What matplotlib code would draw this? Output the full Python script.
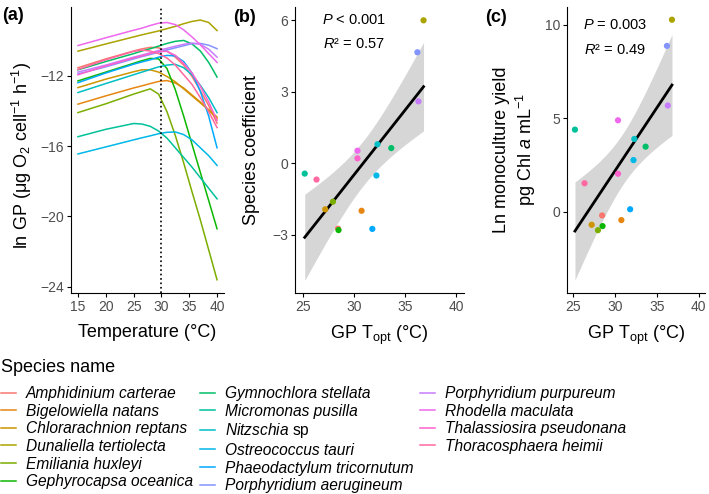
import numpy as np
import matplotlib
matplotlib.use("Agg")
import matplotlib.pyplot as plt
from matplotlib.lines import Line2D

plt.rcParams['font.family'] = ['Liberation Sans', 'DejaVu Sans']
plt.rcParams['mathtext.fontset'] = 'custom'
plt.rcParams['mathtext.rm'] = 'Liberation Sans'
plt.rcParams['mathtext.it'] = 'Liberation Sans:italic'
plt.rcParams['mathtext.bf'] = 'Liberation Sans:bold'

# species (legend order)
species = ["Amphidinium carterae", "Bigelowiella natans", "Chlorarachnion reptans",
           "Dunaliella tertiolecta", "Emiliania huxleyi", "Gephyrocapsa oceanica",
           "Gymnochlora stellata", "Micromonas pusilla", "Nitzschia sp",
           "Ostreococcus tauri", "Phaeodactylum tricornutum", "Porphyridium aerugineum",
           "Porphyridium purpureum", "Rhodella maculata", "Thalassiosira pseudonana",
           "Thoracosphaera heimii"]

# panel a: ln GP at these temperatures
temp_grid = [15, 20, 25, 26.5, 28, 29.5, 31, 32.5, 34, 35.5, 37, 38.5, 40]
ln_gp = [
    [-11.55, -11.05, -10.6, -10.48, -10.39, -10.42, -10.6, -10.95, -11.4, -12.05, -12.85, -13.7, -14.7],
    [-13.62, -13.15, -12.7, -12.58, -12.45, -12.33, -12.28, -12.42, -12.7, -13.1, -13.5, -13.95, -14.45],
    [-12.68, -12.2, -11.78, -11.67, -11.67, -11.8, -12.05, -12.35, -12.75, -13.15, -13.55, -13.95, -14.35],
    [-10.61, -10.2, -9.8, -9.68, -9.57, -9.46, -9.33, -9.2, -9.05, -8.92, -8.84, -8.98, -9.44],
    [-14.1, -13.6, -13.05, -12.9, -12.75, -13.05, -14.05, -15.4, -16.95, -18.6, -20.2, -21.9, -23.6],
    [-12.3, -11.8, -11.3, -11.15, -11.02, -11.05, -11.6, -12.8, -14.3, -15.9, -17.5, -19.1, -20.7],
    [-11.67, -11.2, -10.75, -10.6, -10.47, -10.32, -10.17, -10.05, -10.0, -10.2, -10.6, -11.25, -12.08],
    [-15.47, -15.05, -14.72, -14.75, -14.88, -15.15, -15.55, -16.1, -16.65, -17.2, -17.8, -18.4, -19.0],
    [-12.96, -12.45, -11.95, -11.8, -11.65, -11.5, -11.4, -11.36, -11.55, -11.95, -12.55, -13.25, -14.1],
    [-16.45, -16.05, -15.65, -15.53, -15.42, -15.3, -15.22, -15.2, -15.35, -15.65, -16.1, -16.55, -17.1],
    [-12.4, -11.85, -11.35, -11.22, -11.1, -10.95, -10.85, -10.88, -11.2, -11.85, -12.9, -14.3, -16.1],
    [-11.9, -11.5, -11.05, -10.92, -10.8, -10.67, -10.54, -10.42, -10.3, -10.18, -10.17, -10.27, -10.47],
    [-11.8, -11.4, -10.95, -10.83, -10.7, -10.57, -10.45, -10.33, -10.22, -10.15, -10.22, -10.5, -10.95],
    [-10.29, -9.85, -9.42, -9.3, -9.15, -9.02, -8.98, -9.1, -9.4, -9.8, -10.25, -10.75, -11.25],
    [-11.95, -11.45, -11.0, -10.88, -10.75, -10.63, -10.62, -10.85, -11.3, -11.85, -12.6, -13.5, -14.55],
    [-11.65, -11.1, -10.62, -10.55, -10.6, -10.75, -11.0, -11.4, -11.95, -12.5, -13.25, -14.05, -14.95],
]

# panels b and c: GP Topt per species
gp_topt = [28.45, 30.75, 27.2, 36.8, 27.95, 28.5, 33.65, 25.2,
           32.3, 32.2, 31.8, 36.2, 36.3, 30.35, 30.35, 26.35]
species_coef = [-2.75, -2.0, -1.94, 5.99, -1.62, -2.81, 0.63, -0.44,
                0.79, -0.52, -2.76, 4.65, 2.59, 0.52, 0.2, -0.69]
ln_yield = [-0.2, -0.45, -0.7, 10.27, -0.99, -0.77, 3.48, 4.39,
            3.89, 2.76, 0.13, 8.87, 5.68, 4.89, 2.03, 1.52]

T_CRIT = 2.1448  # t(0.975, df=14)


def hcl_hex(h, c=100.0, l=65.0):
    # ggplot2 hue palette colour (polar LUV -> sRGB)
    xn, yn, zn = 95.047, 100.0, 108.883
    hr = np.radians(h)
    U, V = c * np.cos(hr), c * np.sin(hr)
    Y = yn * ((l + 16) / 116) ** 3
    den = xn + 15 * yn + 3 * zn
    un, vn = 4 * xn / den, 9 * yn / den
    u = U / (13 * l) + un
    v = V / (13 * l) + vn
    X = 9.0 * Y * u / (4 * v)
    Z = -X / 3 - 5 * Y + 3 * Y / v
    X, Y, Z = X / 100, Y / 100, Z / 100
    rgb = [3.240479 * X - 1.537150 * Y - 0.498535 * Z,
           -0.969256 * X + 1.875992 * Y + 0.041556 * Z,
           0.055648 * X - 0.204043 * Y + 1.057311 * Z]
    out = []
    for ch in rgb:
        ch = 12.92 * ch if ch <= 0.0031308 else 1.055 * ch ** (1 / 2.4) - 0.055
        out.append(min(max(ch, 0), 1))
    return tuple(out)


n_sp = len(species)
hues = np.linspace(15, 375, n_sp + 1)[:-1]
colors = [hcl_hex(h) for h in hues]

W, H = 709, 494
fig = plt.figure(figsize=(W / 100, H / 100), dpi=100)


def box(l, r, t=7, b=293):
    return [l / W, 1 - b / H, (r - l) / W, (b - t) / H]


ax_a = fig.add_axes(box(71, 224))
ax_b = fig.add_axes(box(295, 464))
ax_c = fig.add_axes(box(567, 705))

tick_col = '#4D4D4D'
for ax in (ax_a, ax_b, ax_c):
    for s in ('top', 'right'):
        ax.spines[s].set_visible(False)
    for s in ('left', 'bottom'):
        ax.spines[s].set_linewidth(0.8)
    ax.tick_params(direction='out', length=3, width=0.8, labelsize=10,
                   labelcolor=tick_col, pad=2)

# (a)
for i in range(n_sp):
    ax_a.plot(temp_grid, ln_gp[i], color=colors[i], lw=1.1)
ax_a.axvline(30, color='black', ls=':', lw=1.2)
ax_a.set_xlim(13.75, 41.25)
ax_a.set_ylim(-24.35, -8.1)
ax_a.set_xticks([15, 20, 25, 30, 35, 40])
ax_a.set_yticks([-24, -20, -16, -12])
ax_a.set_xlabel('Temperature (°C)', fontsize=13, labelpad=7)
ax_a.set_ylabel(r'ln GP (μg O$_2$ cell$^{-1}$ h$^{-1}$)', fontsize=13)
ax_a.yaxis.set_label_coords(-0.24, 0.48)


def fit_panel(ax, yvals, ylim, yticks):
    x = np.array(gp_topt)
    y = np.array(yvals)
    slope, inter = np.polyfit(x, y, 1)
    resid = y - (slope * x + inter)
    s = np.sqrt(np.sum(resid ** 2) / (len(x) - 2))
    xs = np.linspace(x.min(), x.max(), 80)
    se = s * np.sqrt(1 / len(x) + (xs - x.mean()) ** 2 / np.sum((x - x.mean()) ** 2))
    fit = slope * xs + inter
    ax.fill_between(xs, fit - T_CRIT * se, fit + T_CRIT * se, color='#999999',
                    alpha=0.4, lw=0)
    ax.plot(xs, fit, color='black', lw=2)
    ax.scatter(x, y, c=colors, s=20, zorder=3, linewidths=0)
    ax.set_xlim(24.25, 40.75)
    ax.set_ylim(*ylim)
    ax.set_xticks([25, 30, 35, 40])
    ax.set_yticks(yticks)
    ax.set_xlabel(r'GP T$_{\rm opt}$ (°C)', fontsize=13, labelpad=7)


fit_panel(ax_b, species_coef, (-5.45, 6.55), [-3, 0, 3, 6])
ax_b.text(30, 6.0, r'$P$ < 0.001', ha='center', va='center', fontsize=10.5)
ax_b.text(30, 5.0, r'$R$² = 0.57', ha='center', va='center', fontsize=10.5)
ax_b.set_ylabel('Species coefficient', fontsize=13)
ax_b.yaxis.set_label_coords(-0.21, 0.5)

fit_panel(ax_c, ln_yield, (-4.35, 10.95), [0, 5, 10])
ax_c.text(30, 10.0, r'$P$ = 0.003', ha='center', va='center', fontsize=10.5)
ax_c.text(30, 8.65, r'$R$² = 0.49', ha='center', va='center', fontsize=10.5)
ax_c.set_ylabel('Ln monoculture yield\npg Chl $a$ mL$^{-1}$', fontsize=13,
                multialignment='center')
ax_c.yaxis.set_label_coords(-0.21, 0.5)

for lab, xp, yp in (('(a)', 2, 15), ('(b)', 233, 17), ('(c)', 485, 17)):
    fig.text(xp / W, 1 - yp / H, lab, fontsize=13, fontweight='bold',
             ha='left', va='center')

# legend: title drawn separately, 6 rows x 3 columns, last two slots empty
fig.text(1 / W, 1 - 367 / H, 'Species name', fontsize=13, ha='left', va='center')
handles = [Line2D([0], [0], color=c, lw=1.1) for c in colors]
labels = [r'Nitzschia $\mathrm{sp}$' if sp == 'Nitzschia sp' else sp for sp in species]
handles += [Line2D([0], [0], color='none')] * 2
labels += ['', '']
leg = fig.legend(handles, labels, loc='upper left', bbox_to_anchor=(1 / W, 1 - 386 / H),
                 ncol=3, frameon=False, prop={'size': 11.2, 'style': 'italic'},
                 handlelength=0.95, handletextpad=0.65, columnspacing=0.45,
                 labelspacing=0.17, borderpad=0, borderaxespad=0)

fig.savefig('out.png', dpi=100)
